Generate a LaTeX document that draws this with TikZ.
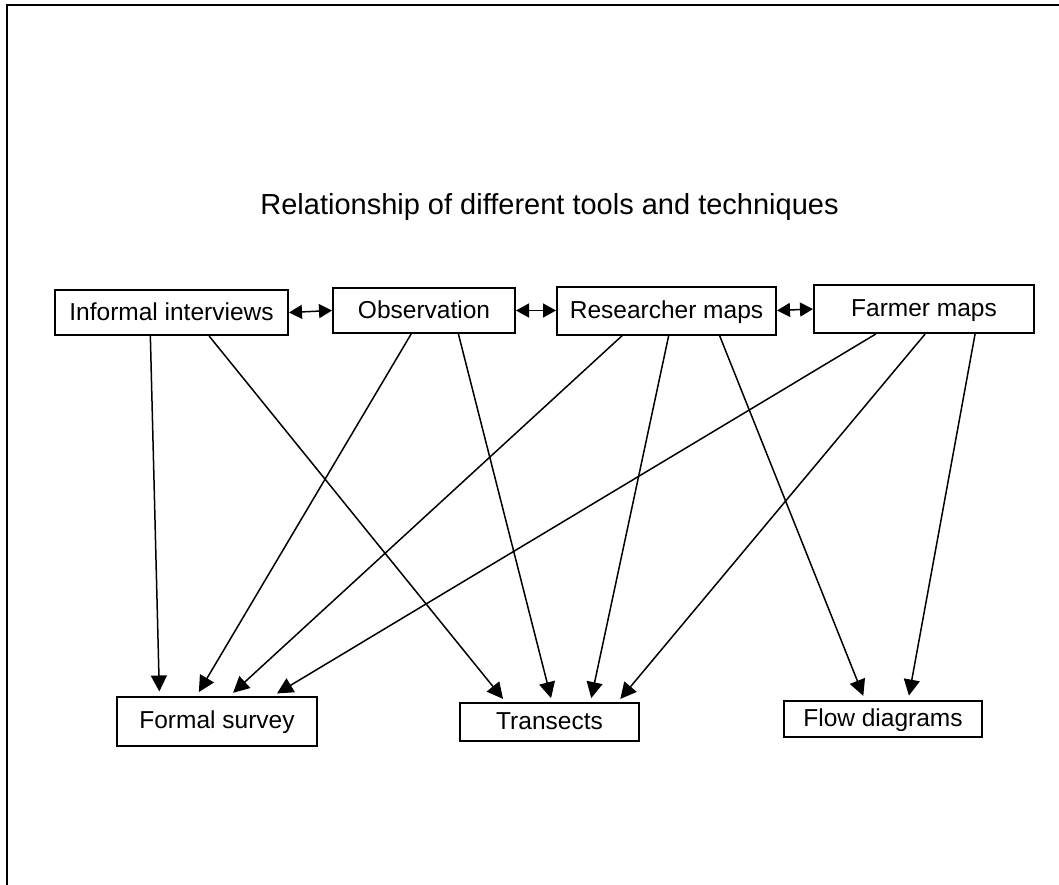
\documentclass[tikz,border=0pt]{standalone}
\usepackage{fontspec}
\setmainfont{Liberation Sans}
\usetikzlibrary{arrows.meta,calc}
\begin{document}
\begin{tikzpicture}[x=1pt,y=-1pt,
  box/.style={draw,line width=2pt,rectangle,inner sep=0pt,
    font=\fontsize{24.5}{29}\selectfont,text height=17.5pt,text depth=2.5pt},
  link/.style={line width=1.5pt,-{Triangle[length=16pt,width=16pt]},shorten >=4pt},
  both/.style={line width=1.5pt,{Triangle[length=13pt,width=14pt]}-{Triangle[length=13pt,width=14pt]}}]
\useasboundingbox (0,0) rectangle (1059,885);
% page frame
\draw[line width=2pt] (1059,5) -- (7,5) -- (7,885);

% title
\node[font=\fontsize{29}{34}\selectfont,anchor=base] (title) at (549.5,215) {Relationship of different tools and techniques};

% sources
\node[box,minimum width=233pt,minimum height=45pt] (ii) at (171.5,312.5) {Informal interviews};
\node[box,minimum width=182pt,minimum height=45pt] (ob) at (424,310.5) {Observation};
\node[box,minimum width=219pt,minimum height=48pt] (rm) at (666.5,310.5) {Researcher maps};
\node[box,minimum width=220pt,minimum height=48pt] (fm) at (924,309) {Farmer maps};

% targets
\node[box,minimum width=200pt,minimum height=49pt] (fs) at (217,721) {Formal survey};
\node[box,minimum width=179pt,minimum height=38pt] (tr) at (549.5,722) {Transects};
\node[box,minimum width=198pt,minimum height=36pt] (fd) at (883,718.5) {Flow diagrams};

% links between sources
\draw[both] (ii.east) -- (ob.west);
\draw[both] (ob.east) -- (rm.west);
\draw[both] (rm.east) -- (fm.west);

% from informal interviews
\draw[link] ($(ii.south west)!0.41!(ii.south east)$) -- ($(fs.north west)!0.215!(fs.north east)$);
\draw[link] ($(ii.south west)!0.66!(ii.south east)$) -- ($(tr.north west)!0.257!(tr.north east)$);
% from observation
\draw[link] ($(ob.south west)!0.43!(ob.south east)$) -- ($(fs.north west)!0.40!(fs.north east)$);
\draw[link] ($(ob.south west)!0.687!(ob.south east)$) -- ($(tr.north west)!0.514!(tr.north east)$);
% from researcher maps
\draw[link] ($(rm.south west)!0.30!(rm.south east)$) -- ($(fs.north west)!0.565!(fs.north east)$);
\draw[link] ($(rm.south west)!0.51!(rm.south east)$) -- ($(tr.north west)!0.726!(tr.north east)$);
\draw[link] ($(rm.south west)!0.74!(rm.south east)$) -- ($(fd.north west)!0.409!(fd.north east)$);
% from farmer maps
\draw[link] ($(fm.south west)!0.283!(fm.south east)$) -- ($(fs.north west)!0.78!(fs.north east)$);
\draw[link] ($(fm.south west)!0.505!(fm.south east)$) -- ($(tr.north west)!0.877!(tr.north east)$);
\draw[link] ($(fm.south west)!0.73!(fm.south east)$) -- ($(fd.north west)!0.626!(fd.north east)$);
\end{tikzpicture}
\end{document}
